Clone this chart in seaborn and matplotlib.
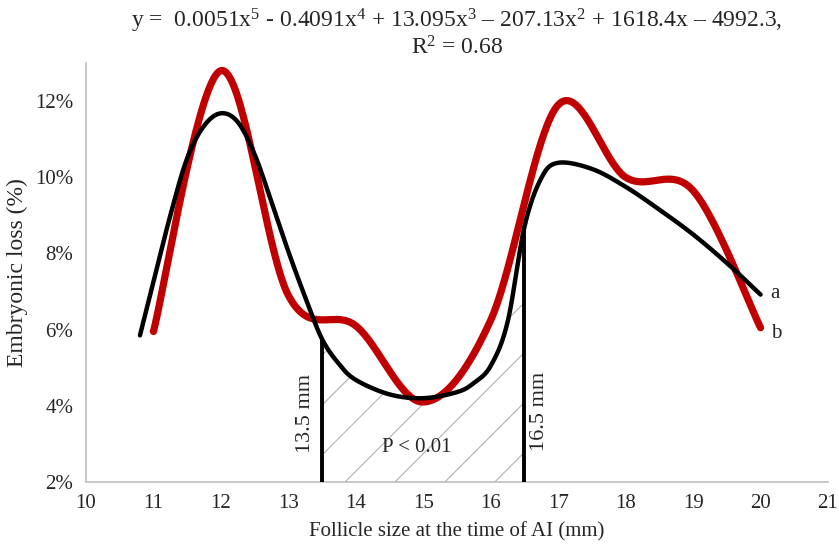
import numpy as np
import pandas as pd
import matplotlib
matplotlib.use("Agg")
import matplotlib.pyplot as plt
from matplotlib.patches import Polygon
import seaborn as sns

# Embryonic loss by follicle size (red series, Excel smoothed line)
follicle_mm = [11, 12, 13, 14, 15, 16, 17, 18, 19, 20]
loss_pct = [5.95, 12.8, 6.9, 6.1, 4.1, 6.25, 11.9, 10.0, 9.65, 6.05]

# Trendline (black)
trend_x = [10.8, 11.0, 11.25, 11.5, 11.75, 12.0, 12.25, 12.5, 12.75, 13.0, 13.25,
           13.5, 13.75, 14.0, 14.5, 15.0, 15.5, 15.75, 16.0, 16.25, 16.5, 16.75,
           17.0, 17.5, 18.0, 18.5, 19.0, 19.5, 20.0]
trend_y = [5.85, 7.25, 9.0, 10.5, 11.35, 11.68, 11.45, 10.6, 9.35, 8.05, 6.85,
           5.75, 5.1, 4.68, 4.3, 4.2, 4.36, 4.6, 5.05, 6.2, 8.7, 9.98,
           10.38, 10.22, 9.75, 9.15, 8.5, 7.75, 6.92]

cut_mm = [13.5, 16.5]
x_ticks = list(range(10, 22))
y_ticks = [2, 4, 6, 8, 10, 12]

title_1 = (r"y =  0.0051x$^{5}$ - 0.4091x$^{4}$ + 13.095x$^{3}$ – 207.13x$^{2}$"
           r" + 1618.4x – 4992.3,")
title_2 = r"R$^{2}$ = 0.68"


def smooth(xs, ys, n=40):
    # Excel-style smoothed line: Catmull-Rom bezier through the points
    p = np.column_stack([xs, ys]).astype(float)
    out = []
    for i in range(len(p) - 1):
        p0 = p[i - 1] if i > 0 else p[i]
        p1, p2 = p[i], p[i + 1]
        p3 = p[i + 2] if i + 2 < len(p) else p[i + 1]
        c1 = p1 + (p2 - p0) / 6
        c2 = p2 - (p3 - p1) / 6
        t = np.linspace(0, 1, n)[:, None]
        seg = ((1 - t) ** 3) * p1 + 3 * ((1 - t) ** 2) * t * c1 + 3 * (1 - t) * t ** 2 * c2 + t ** 3 * p2
        out.append(seg if i == 0 else seg[1:])
    seg = np.vstack(out)
    return pd.DataFrame({"x": seg[:, 0], "y": seg[:, 1]})


sns.set_style("white")
plt.rcParams["font.family"] = ["Liberation Serif", "DejaVu Serif"]
plt.rcParams["mathtext.fontset"] = "custom"
plt.rcParams["mathtext.rm"] = "Liberation Serif"
plt.rcParams["mathtext.it"] = "Liberation Serif"

fig = plt.figure(figsize=(8.39, 5.46), dpi=100)
ax = fig.add_axes([86 / 839, 1 - 482 / 546, 742 / 839, 419 / 546])
ax.set_xlim(10, 21)
ax.set_ylim(2, 13)

red = smooth(follicle_mm, loss_pct)
black = smooth(trend_x, trend_y)

# hatched area under the trendline between the two cut-offs
inside = black[(black.x >= cut_mm[0] - 1e-9) & (black.x <= cut_mm[1] + 1e-9)]
poly_xy = np.vstack([inside[["x", "y"]].values, [[cut_mm[1], 2], [cut_mm[0], 2]]])
region = Polygon(poly_xy, closed=True, facecolor="none", edgecolor="none")
ax.add_patch(region)

kx = ax.transData.transform((1, 0))[0] - ax.transData.transform((0, 0))[0]
ky = ax.transData.transform((0, 1))[1] - ax.transData.transform((0, 0))[1]
slope = kx / ky
for x0 in np.arange(13.84 - 0.74 * 4, 16.6, 0.74):
    ln, = ax.plot([x0, x0 + 6], [2, 2 + 6 * slope], color="#b0b0b0", lw=0.8, zorder=1)
    ln.set_clip_path(region)

for cx in cut_mm:
    top = trend_y[trend_x.index(cx)]
    ax.plot([cx, cx], [2, top], color="black", lw=2.8, zorder=3)

sns.lineplot(data=red, x="x", y="y", sort=False, estimator=None, color="#c00000",
             lw=5.2, solid_capstyle="round", ax=ax, zorder=4)
sns.lineplot(data=black, x="x", y="y", sort=False, estimator=None, color="black",
             lw=3.2, ax=ax, zorder=5)

ax.set_xticks(x_ticks)
ax.set_yticks(y_ticks)
ax.set_yticklabels([f"{v}%" for v in y_ticks])
ax.tick_params(axis="x", length=5, width=1, color="#bfbfbf", labelsize=15, pad=4)
ax.tick_params(axis="y", length=0, labelsize=15, pad=9)
for s in ["top", "right"]:
    ax.spines[s].set_visible(False)
for s in ["left", "bottom"]:
    ax.spines[s].set_color("#bfbfbf")
    ax.spines[s].set_linewidth(1.2)

ax.set_xlabel("Follicle size at the time of AI (mm)", fontsize=15, labelpad=6)
ax.set_ylabel("Embryonic loss (%)", fontsize=17, labelpad=5)

ax.text(13.26, 3.8, "13.5 mm", rotation=90, ha="center", va="center", fontsize=16)
ax.text(16.73, 3.85, "16.5 mm", rotation=90, ha="center", va="center", fontsize=16)
ax.text(14.9, 2.9, "P < 0.01", ha="center", va="center", fontsize=15)
ax.text(20.15, 6.95, "a", ha="left", va="center", fontsize=15)
ax.text(20.15, 5.9, "b", ha="left", va="center", fontsize=15)

fig.text(457 / 839, 1 - 21 / 546, title_1, ha="center", va="center", fontsize=17)
fig.text(457 / 839, 1 - 48 / 546, title_2, ha="center", va="center", fontsize=17)

fig.savefig("out.png", dpi=100)
